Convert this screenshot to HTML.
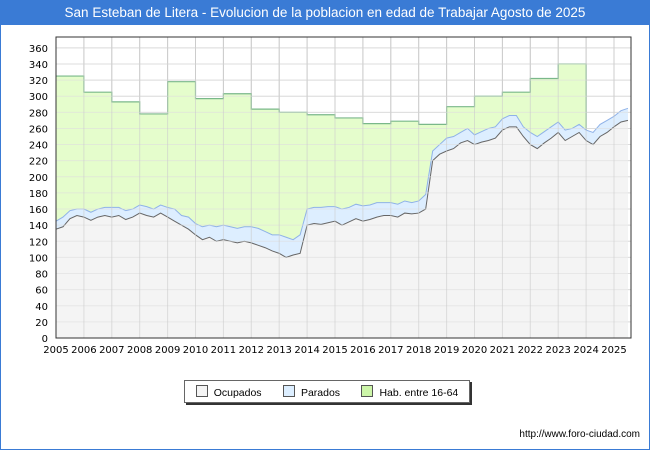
<!DOCTYPE html>
<html><head><meta charset="utf-8"><style>
body{margin:0;background:#fff;font-family:"Liberation Sans",sans-serif}
#wrap{position:relative;width:648px;height:448px;border:1px solid #3a7bd5;overflow:hidden}
#title{position:absolute;left:0;top:0;width:648px;height:24px;background:#3a7bd5;color:#fff;font-size:13.5px;line-height:24px;text-align:center}
#legend{position:absolute;left:183px;top:379px;width:284px;height:21px;border:1px solid #666;box-shadow:2px 2px 0 #333;font-size:10.5px;display:flex;align-items:center;justify-content:space-around;background:#fff}
.sw{display:inline-block;width:10px;height:10px;border:1px solid #555;margin-right:6px;vertical-align:-1px}
#url{position:absolute;right:9px;top:428px;font-size:10px}
svg text{font-family:"DejaVu Sans",sans-serif;font-size:10px}
</style></head><body>
<div id="wrap">
<div id="title">San Esteban de Litera - Evolucion de la poblacion en edad de Trabajar Agosto de 2025</div>
<svg id="svg" width="648" height="448" style="position:absolute;left:0;top:0"></svg>
<div id="legend">
<span><span class="sw" style="background:#f4f4f4"></span>Ocupados</span>
<span><span class="sw" style="background:#dceeff"></span>Parados</span>
<span><span class="sw" style="background:#ccf5a8"></span>Hab. entre 16-64</span>
</div>
<div id="url">http://www.foro-ciudad.com</div>
</div>
<script>
const years=[2005,2006,2007,2008,2009,2010,2011,2012,2013,2014,2015,2016,2017,2018,2019,2020,2021,2022,2023,2024,2025];
const yTicks=[0,20,40,60,80,100,120,140,160,180,200,220,240,260,280,300,320,340,360];
const habYears=[2005,2006,2007,2008,2009,2010,2011,2012,2013,2014,2015,2016,2017,2018,2019,2020,2021,2022,2023];
const hab=[325,305,293,278,318,297,303,284,280,277,273,266,269,265,287,300,305,322,340];
const ocupados=[135,138,148,152,150,146,150,152,150,152,147,150,155,152,150,155,150,145,140,135,128,122,125,120,122,120,118,120,118,115,112,108,105,100,103,105,140,142,141,143,145,140,144,148,145,147,150,152,152,150,155,154,155,160,220,228,232,235,242,245,240,243,245,248,258,262,262,250,240,235,242,248,255,245,250,255,245,240,250,255,262,268,270];
const parados=[145,150,158,160,160,156,160,162,162,162,158,160,165,163,160,165,162,160,152,150,142,138,140,138,140,138,136,138,138,136,132,128,128,125,122,128,160,162,162,163,163,160,162,166,164,165,168,168,168,166,170,168,170,178,232,240,248,250,255,260,252,256,260,262,272,276,276,262,255,250,256,262,268,258,260,265,258,255,265,270,275,282,285];
const NS='http://www.w3.org/2000/svg',svg=document.getElementById('svg');
const L=55,R=630,T=36,B=337;
const X=t=>L+(t-2005)*27.9, Y=v=>B-v*0.806;
function mk(tag,at){const e=document.createElementNS(NS,tag);for(const k in at)e.setAttribute(k,at[k]);svg.appendChild(e);return e;}
const bg=mk('rect',{x:L,y:T,width:R-L,height:B-T,fill:'#fff'});


yTicks.forEach(v=>{const l=mk('line',{x1:L,x2:R,y1:Y(v),y2:Y(v),stroke:'#ddd'});


const t=mk('text',{x:L-8,y:Y(v)+4,'text-anchor':'end'});t.textContent=v;

});
years.forEach(y=>{const l=mk('line',{x1:X(y),x2:X(y),y1:T,y2:B,stroke:'#ccc'});


const t=mk('text',{x:X(y),y:B+15,'text-anchor':'middle'});t.textContent=y;

});
let hp='';habYears.forEach((y,i)=>{hp+=(i?'L':'M')+X(y)+','+Y(hab[i])+'L'+X(y+1)+','+Y(hab[i]);});
const tq=i=>2005+i/4;
let pp='';parados.forEach((v,i)=>{pp+='L'+X(tq(i))+','+Y(v);});
let op='';ocupados.forEach((v,i)=>{op+=(i?'L':'M')+X(tq(i))+','+Y(v);});
const habA=mk('path',{d:hp+'L'+X(2024)+','+Y(parados[76])+'L'+X(2024)+','+B+'L'+L+','+B+'Z',fill:'#e5fdcc'});


const habL=mk('path',{d:hp+'L'+X(2024)+','+Y(parados[76]),fill:'none',stroke:'#7ab88a','stroke-width':1.2});


const parA=mk('path',{d:'M'+X(2005)+','+B+pp+'L'+X(tq(parados.length-1))+','+B+'Z',fill:'#ddeeff'});


const parL=mk('path',{d:'M'+pp.slice(1),fill:'none',stroke:'#8fb2e8','stroke-width':1});


const ocA=mk('path',{d:op+'L'+X(tq(ocupados.length-1))+','+B+'L'+L+','+B+'Z',fill:'#f4f4f4'});


const ocL=mk('path',{d:op,fill:'none',stroke:'#666','stroke-width':1});


yTicks.forEach(v=>{const l=mk('line',{x1:L,x2:R,y1:Y(v),y2:Y(v),stroke:'#ddd','stroke-opacity':0.6});

});
years.forEach(y=>{const l=mk('line',{x1:X(y),x2:X(y),y1:T,y2:B,stroke:'#ccc','stroke-opacity':0.6});

});
const fr=mk('rect',{x:L,y:T,width:R-L,height:B-T,fill:'none',stroke:'#333'});


</script>
</body></html>
